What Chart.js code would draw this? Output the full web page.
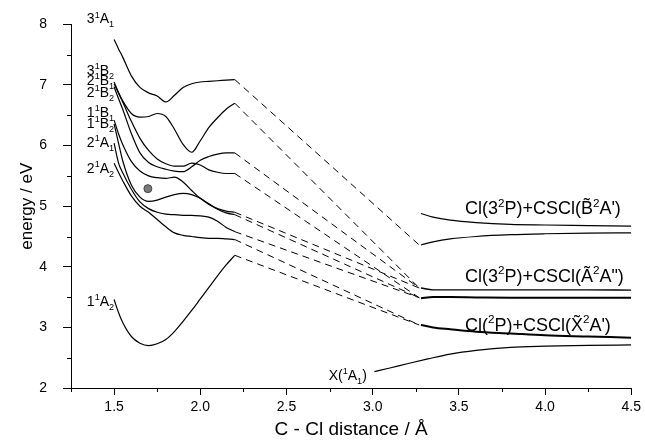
<!DOCTYPE html>
<html>
<head>
<meta charset="utf-8">
<script src="https://cdn.jsdelivr.net/npm/chart.js@4.4.0/dist/chart.umd.min.js"></script>
<style>
  body { margin: 0; background: #fff; }
  canvas { display: block; }
</style>
</head>
<body>
<canvas id="pecChart" width="645" height="446"></canvas>
<script>
const FONT = '"Liberation Sans", Arial, Helvetica, sans-serif';

// short-range curves, C-Cl distance in Å
const rShort = [1.5, 1.525, 1.55, 1.6, 1.65, 1.7, 1.75, 1.8, 1.85, 1.9, 1.95, 2.0, 2.05, 2.1, 2.15, 2.2];
const e3A1  = [7.75, 7.6, 7.46, 7.15, 6.96, 6.87, 6.82, 6.72, 6.83, 6.96, 7.02, 7.05, 7.06, 7.07, 7.08, 7.09];
const e2B2  = [7.05, 6.88, 6.74, 6.53, 6.47, 6.48, 6.53, 6.48, 6.27, 6.02, 5.89, 6.08, 6.3, 6.46, 6.6, 6.70];
const eBc   = [6.97, 6.78, 6.6, 6.2, 5.88, 5.72, 5.65, 5.61, 5.58, 5.57, 5.65, 5.76, 5.82, 5.86, 5.88, 5.88];
const eBd   = [7.02, 6.87, 6.72, 6.4, 6.12, 5.92, 5.78, 5.70, 5.66, 5.66, 5.71, 5.68, 5.60, 5.56, 5.54, 5.54];
const e1B1  = [6.42, 6.2, 6.02, 5.74, 5.58, 5.5, 5.47, 5.46, 5.48, 5.40, 5.26, 5.13, 5.03, 4.96, 4.92, 4.90];
const e1B2  = [6.36, 6.05, 5.75, 5.35, 5.15, 5.08, 5.1, 5.15, 5.19, 5.21, 5.19, 5.13, 5.04, 4.95, 4.89, 4.86];
const e2A1  = [6.04, 5.72, 5.55, 5.28, 5.07, 4.96, 4.9, 4.87, 4.86, 4.85, 4.85, 4.84, 4.82, 4.75, 4.65, 4.58];
const e2A2  = [5.71, 5.56, 5.42, 5.17, 5.0, 4.9, 4.78, 4.66, 4.56, 4.52, 4.5, 4.48, 4.47, 4.47, 4.46, 4.45];
const e1A2  = [3.46, 3.25, 3.08, 2.85, 2.74, 2.70, 2.73, 2.8, 2.93, 3.1, 3.28, 3.47, 3.66, 3.85, 4.03, 4.19];

// asymptotic channels
const rLong = [3.28, 3.35, 3.45, 3.6, 3.8, 4.0, 4.25, 4.5];
const eBup  = [4.88, 4.82, 4.77, 4.73, 4.70, 4.69, 4.68, 4.67];
const eBlo  = [4.36, 4.41, 4.46, 4.50, 4.53, 4.545, 4.555, 4.56];
const eAup  = [3.65, 3.62, 3.62, 3.62, 3.62, 3.62, 3.62, 3.615];
const eAlo  = [3.48, 3.5, 3.5, 3.495, 3.49, 3.49, 3.49, 3.49];
const eXup  = [3.04, 3.0, 2.97, 2.93, 2.90, 2.87, 2.85, 2.83];

const rGround = [3.01, 3.1, 3.2, 3.32, 3.45, 3.6, 3.8, 4.0, 4.25, 4.5];
const eGround = [2.27, 2.33, 2.40, 2.48, 2.56, 2.62, 2.67, 2.69, 2.705, 2.71];

// correlation: which channel each short curve is joined to
const shortCurves = [e3A1, e2B2, eBc, eBd, e1B1, e1B2, e2A1, e2A2, e1A2];
const linkTo = [4.36, 3.65, 3.65, 3.49, 3.65, 3.49, 3.49, 3.04, 3.04];

const dotR = [1.696];
const dotE = [5.29];

const stateNames = ['3^1A_1', '3^1B_2', '2^1B_1', '2^1B_2', '1^1B_1', '1^1B_2', '2^1A_1', '2^1A_2', '1^1A_2'];
const stateLabelE = [8.016, 7.159, 6.994, 6.80, 6.472, 6.285, 5.977, 5.544, 3.352];
const channelNames = ["Cl(3^2P)+CSCl(B\u0303^2A')", 'Cl(3^2P)+CSCl(\u00C3^2A")', "Cl(^2P)+CSCl(X\u0303^2A')"];
const channelLabelE = [4.868, 3.752, 2.944];

function pts(rs, es) {
  return rs.map((r, i) => ({ x: r, y: es[i] }));
}

function curve(rs, es, w) {
  return {
    data: pts(rs, es),
    showLine: true,
    borderColor: '#000',
    borderWidth: w || 1.2,
    pointRadius: 0,
    cubicInterpolationMode: 'monotone'
  };
}

// draws text with ^x superscript and _x subscript marks
function drawRich(ctx, str, x, y, size) {
  let cx = x;
  let i = 0;
  while (i < str.length) {
    let ch = str[i];
    let mode = 0;
    if (ch === '^' || ch === '_') {
      mode = ch === '^' ? 1 : -1;
      i++;
      ch = str[i];
    }
    if (str[i + 1] === '\u0303') { ch += '\u0303'; i++; }
    const fs = mode ? size * 0.65 : size;
    ctx.font = fs + 'px ' + FONT;
    const dy = mode === 1 ? -size * 0.42 : (mode === -1 ? size * 0.28 : 0);
    ctx.fillText(ch, cx, y + dy);
    cx += ctx.measureText(ch).width;
    i++;
  }
}

const isMajor = (v, step) => Math.abs(v / step - Math.round(v / step)) < 1e-6;

const annotations = {
  id: 'annotations',
  afterDraw(chart) {
    const { ctx, scales: { x, y } } = chart;
    ctx.save();
    // short minor ticks
    ctx.strokeStyle = '#000';
    ctx.lineWidth = 1;
    ctx.beginPath();
    x.ticks.forEach(t => {
      if (!isMajor(t.value, 0.5)) {
        const px = Math.round(x.getPixelForValue(t.value)) + 0.5;
        ctx.moveTo(px, y.bottom);
        ctx.lineTo(px, y.bottom + 4);
      }
    });
    y.ticks.forEach(t => {
      if (!isMajor(t.value, 1)) {
        const py = Math.round(y.getPixelForValue(t.value)) + 0.5;
        ctx.moveTo(x.left, py);
        ctx.lineTo(x.left - 4, py);
      }
    });
    ctx.stroke();

    ctx.fillStyle = '#000';
    ctx.textBaseline = 'alphabetic';
    ctx.textAlign = 'left';
    stateNames.forEach((s, i) => {
      drawRich(ctx, s, x.getPixelForValue(1.342), y.getPixelForValue(stateLabelE[i]), 14);
    });
    channelNames.forEach((s, i) => {
      drawRich(ctx, s, x.getPixelForValue(3.535), y.getPixelForValue(channelLabelE[i]), 18);
    });
    drawRich(ctx, 'X(^1A_1)', x.getPixelForValue(2.745), y.getPixelForValue(2.13), 14);
    ctx.restore();
  }
};

document.addEventListener('DOMContentLoaded', function () {
  const ctx = document.getElementById('pecChart').getContext('2d');

  const datasets = [];
  shortCurves.forEach(es => datasets.push(curve(rShort, es)));
  datasets.push(curve(rLong, eBup));
  datasets.push(curve(rLong, eBlo));
  datasets.push(curve(rLong, eAup, 1.4));
  datasets.push(curve(rLong, eAlo, 2));
  datasets.push(curve(rLong, eXup, 2));
  datasets.push(curve(rGround, eGround));

  shortCurves.forEach((es, i) => {
    datasets.push({
      data: [{ x: 2.2, y: es[es.length - 1] }, { x: 3.27, y: linkTo[i] }],
      showLine: true,
      borderColor: '#000',
      borderWidth: 1,
      borderDash: [7, 5],
      pointRadius: 0
    });
  });

  datasets.push({
    data: pts(dotR, dotE),
    showLine: false,
    pointRadius: 4,
    pointBackgroundColor: '#7a7a7a',
    pointBorderColor: '#444',
    pointBorderWidth: 1
  });

  new Chart(ctx, {
    type: 'scatter',
    data: { datasets },
    options: {
      responsive: false,
      animation: false,
      events: [],
      layout: { padding: { top: 24, right: 11, left: 0, bottom: 0 } },
      plugins: { legend: { display: false }, tooltip: { enabled: false } },
      scales: {
        x: {
          type: 'linear',
          min: 1.25,
          max: 4.5,
          afterFit(scale) { scale.height = 58; },
          border: { display: true, color: '#000', width: 1 },
          grid: {
            drawOnChartArea: false,
            drawTicks: true,
            tickLength: 7,
            tickColor: c => isMajor(c.tick.value, 0.5) ? '#000' : 'rgba(0,0,0,0)'
          },
          ticks: {
            stepSize: 0.25,
            autoSkip: false,
            maxRotation: 0,
            padding: 4,
            color: '#000',
            font: { family: FONT, size: 14 },
            callback: v => isMajor(v, 0.5) ? v.toFixed(1) : ''
          },
          title: {
            display: true,
            text: 'C - Cl distance / Å',
            color: '#000',
            font: { family: FONT, size: 19 },
            padding: { top: 0, bottom: 5 }
          }
        },
        y: {
          type: 'linear',
          min: 2,
          max: 8,
          afterFit(scale) { scale.width = 71; },
          border: { display: true, color: '#000', width: 1 },
          grid: {
            drawOnChartArea: false,
            drawTicks: true,
            tickLength: 8,
            tickColor: c => isMajor(c.tick.value, 1) ? '#000' : 'rgba(0,0,0,0)'
          },
          ticks: {
            stepSize: 0.5,
            autoSkip: false,
            padding: 16,
            color: '#000',
            font: { family: FONT, size: 14 },
            callback: v => isMajor(v, 1) ? String(v) : ''
          },
          title: {
            display: true,
            text: 'energy / eV',
            color: '#000',
            font: { family: FONT, size: 17 },
            padding: { top: 17, bottom: 0 }
          }
        }
      }
    },
    plugins: [annotations]
  });
});
</script>
</body>
</html>
